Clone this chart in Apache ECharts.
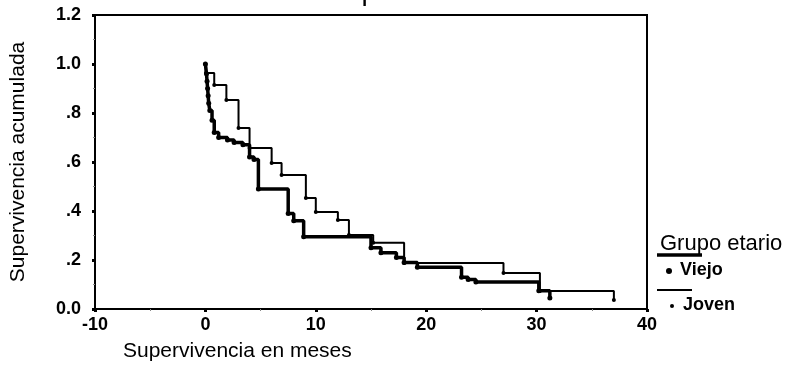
<!DOCTYPE html>
<html>
<head>
<meta charset="utf-8">
<script src="https://cdn.jsdelivr.net/npm/echarts@6/dist/echarts.min.js"></script>
<style>
  html, body { margin: 0; padding: 0; background: #fff; }
  #chart { width: 798px; height: 383px; }
</style>
</head>
<body>
<div id="chart"></div>
<script>
// curvas de supervivencia (Kaplan-Meier), [meses, supervivencia acumulada]
var viejo = [
  [0, 1.0], [0.1, 0.96], [0.15, 0.93], [0.2, 0.9], [0.25, 0.87], [0.3, 0.84],
  [0.4, 0.81], [0.6, 0.77], [0.8, 0.72], [1.2, 0.70], [2.0, 0.69], [2.6, 0.68],
  [3.4, 0.67], [4.0, 0.62], [4.4, 0.61], [4.8, 0.49], [7.5, 0.39], [8.0, 0.36],
  [8.9, 0.295], [15.0, 0.25], [15.9, 0.23], [17.3, 0.21], [18.0, 0.19],
  [19.2, 0.17], [23.2, 0.13], [23.8, 0.12], [24.5, 0.11], [30.2, 0.075], [31.2, 0.045]
];
var joven = [
  [0, 1.0], [0.05, 0.963], [0.8, 0.914], [1.9, 0.853], [3.0, 0.739], [4.0, 0.657],
  [6.0, 0.596], [6.9, 0.547], [9.1, 0.453], [10.0, 0.396], [12.0, 0.363],
  [13.0, 0.302], [15.2, 0.27], [18.0, 0.188], [27.0, 0.147], [30.3, 0.073], [37.0, 0.037]
];
var yTickLabels = ["0.0", ".2", ".4", ".6", ".8", "1.0", "1.2"];
var xTickLabels = ["-10", "0", "10", "20", "30", "40"];

var fuente = "'Liberation Sans', Arial, sans-serif";
var myChart = echarts.init(document.getElementById("chart"));
var option = {
  animation: false,
  title: [
    {
      text: "Funciones de supervivencia",
      left: 151,
      top: -27,
      textStyle: { fontFamily: fuente, fontSize: 28, fontWeight: "normal", color: "#000", lineHeight: 28 },
    },
    {
      text: "Grupo etario",
      left: 655,
      top: 228,
      textStyle: { fontFamily: fuente, fontSize: 22, fontWeight: "normal", color: "#000" },
    },
  ],
  grid: {
    show: true,
    left: 92,
    right: 151,
    top: 15,
    bottom: 74,
    borderColor: "#000",
    borderWidth: 2,
  },
  xAxis: {
    type: "value",
    min: -10,
    max: 40,
    interval: 10,
    name: "Supervivencia en meses",
    nameLocation: "start",
    nameGap: -28,
    nameTextStyle: {
      fontFamily: fuente, fontSize: 21, color: "#000",
      align: "left", verticalAlign: "top", padding: [32, 0, 0, 0],
    },
    axisLine: { onZero: false, lineStyle: { color: "#000", width: 2 } },
    axisTick: { show: true, length: 3, lineStyle: { color: "#000", width: 3 } },
    minorTick: { show: true, splitNumber: 2, length: 2, lineStyle: { color: "#888", width: 1 } },
    splitLine: { show: false },
    axisLabel: {
      margin: 7,
      fontFamily: fuente, fontSize: 18, fontWeight: "bold", color: "#000",
      formatter: function (v) { return xTickLabels[Math.round((v + 10) / 10)]; },
    },
  },
  yAxis: {
    type: "value",
    min: 0,
    max: 1.2,
    interval: 0.2,
    name: "Supervivencia acumulada",
    nameLocation: "middle",
    nameGap: 66,
    nameTextStyle: { fontFamily: fuente, fontSize: 21, color: "#000" },
    axisLine: { show: true, onZero: false, lineStyle: { color: "#000", width: 2 } },
    axisTick: { show: true, length: 3, lineStyle: { color: "#000", width: 3 } },
    minorTick: { show: true, splitNumber: 2, length: 2, lineStyle: { color: "#888", width: 1 } },
    splitLine: { show: false },
    axisLabel: {
      margin: 14,
      fontFamily: fuente, fontSize: 18, fontWeight: "bold", color: "#000",
      formatter: function (v) { return yTickLabels[Math.round(v / 0.2)]; },
    },
  },
  series: [
    {
      name: "Viejo",
      type: "line",
      step: "end",
      data: viejo,
      symbol: "circle",
      symbolSize: 5,
      itemStyle: { color: "#000" },
      lineStyle: { color: "#000", width: 3.5 },
      z: 3,
    },
    {
      name: "Joven",
      type: "line",
      step: "end",
      data: joven,
      symbol: "circle",
      symbolSize: 4,
      itemStyle: { color: "#000" },
      lineStyle: { color: "#000", width: 2 },
      z: 2,
    },
  ],
  // leyenda estilo SPSS
  graphic: [
    { type: "line", shape: { x1: 657, y1: 255, x2: 702, y2: 255 }, style: { stroke: "#000", lineWidth: 3.5 } },
    { type: "circle", shape: { cx: 669, cy: 271, r: 3 }, style: { fill: "#000" } },
    { type: "text", left: 680, top: 261, style: { text: "Viejo", font: "bold 18px " + fuente, fill: "#000" } },
    { type: "line", shape: { x1: 657, y1: 290, x2: 692, y2: 290 }, style: { stroke: "#000", lineWidth: 2 } },
    { type: "circle", shape: { cx: 672, cy: 306, r: 2 }, style: { fill: "#000" } },
    { type: "text", left: 683, top: 296, style: { text: "Joven", font: "bold 18px " + fuente, fill: "#000" } },
  ],
};
myChart.setOption(option);
</script>
</body>
</html>
